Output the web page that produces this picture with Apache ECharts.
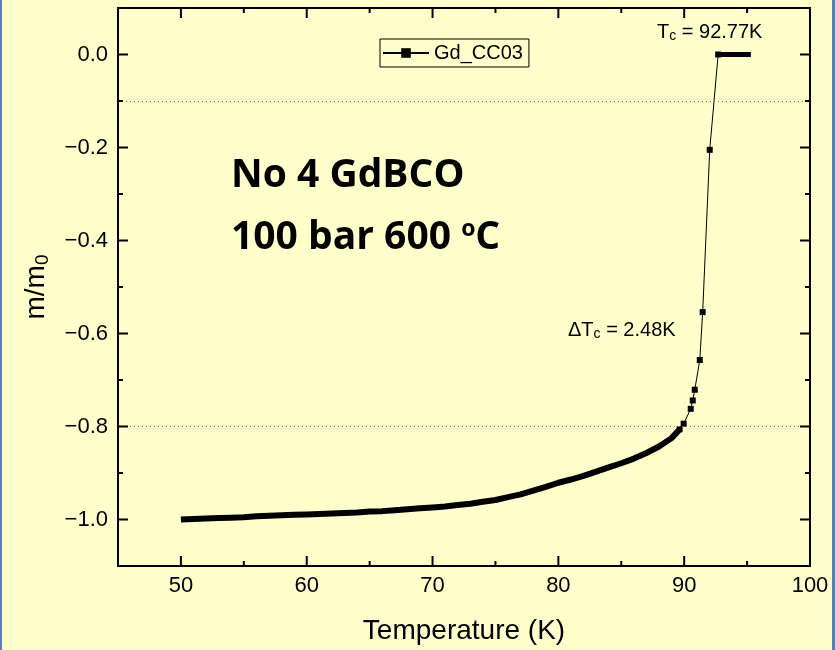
<!DOCTYPE html>
<html>
<head>
<meta charset="utf-8">
<script src="https://cdn.jsdelivr.net/npm/echarts@6/dist/echarts.min.js"></script>
<style>
  html, body { margin: 0; padding: 0; background: #ffffcc; }
  #chart { width: 835px; height: 650px; }
</style>
</head>
<body>
<div id="chart"></div>
<script>
// ------------------------------
// Data
// ------------------------------
var tempDense = [50, 51, 52, 53, 54, 55, 56, 57, 58, 59, 60, 61, 62, 63, 64, 65, 66, 67, 68, 69,
                 70, 71, 72, 73, 74, 75, 76, 77, 78, 79, 80, 81, 82, 83, 84, 85, 86, 87, 88, 89, 89.64];
var momDense = [-1.000, -0.999, -0.998, -0.997, -0.996, -0.995, -0.993, -0.992, -0.991, -0.990,
                -0.989, -0.988, -0.987, -0.986, -0.985, -0.983, -0.982, -0.980, -0.978, -0.976,
                -0.974, -0.972, -0.969, -0.966, -0.962, -0.958, -0.952, -0.946, -0.938, -0.930,
                -0.921, -0.914, -0.906, -0.897, -0.888, -0.879, -0.869, -0.857, -0.843, -0.825, -0.806];

var tempSparse = [89.64, 89.96, 90.52, 90.68, 90.84, 91.24, 91.47, 92.03, 92.70];
var momSparse = [-0.806, -0.794, -0.762, -0.744, -0.721, -0.657, -0.554, -0.205, 0.000];

var tempTop = [92.70, 93.0, 93.5, 94.0, 94.5, 95.0, 95.3];
var momTop = [0, 0, 0, 0, 0, 0, 0];

var xMajor = [50, 60, 70, 80, 90, 100];
var xMinor = [55, 65, 75, 85, 95];
var yMajor = [0, -0.2, -0.4, -0.6, -0.8, -1.0];
var yMinor = [-0.1, -0.3, -0.5, -0.7, -0.9];
var guideLines = [-0.1, -0.8];

function zip(xs, ys) {
    return xs.map(function (x, i) { return [x, ys[i]]; });
}

function yFmt(v) {
    var s = Math.abs(v).toFixed(1);
    return v < -1e-9 ? '\u2212' + s : s;
}

var font = 'Liberation Sans, Arial, sans-serif';

// tick marks on all four sides: [value, length, 0 = x / 1 = y]
var tickData = []
    .concat(xMajor.map(function (v) { return [v, 10, 0]; }))
    .concat(xMinor.map(function (v) { return [v, 5, 0]; }))
    .concat(yMajor.map(function (v) { return [v, 10, 1]; }))
    .concat(yMinor.map(function (v) { return [v, 5, 1]; }));

function renderTick(params, api) {
    var cs = params.coordSys;
    var v = api.value(0), len = api.value(1);
    var st = { stroke: '#000', lineWidth: 2 };
    if (api.value(2) === 0) {
        var px = api.coord([v, -1.1])[0];
        return { type: 'group', children: [
            { type: 'line', shape: { x1: px, y1: cs.y + cs.height, x2: px, y2: cs.y + cs.height - len }, style: st },
            { type: 'line', shape: { x1: px, y1: cs.y, x2: px, y2: cs.y + len }, style: st }
        ] };
    }
    var py = api.coord([45, v])[1];
    return { type: 'group', children: [
        { type: 'line', shape: { x1: cs.x, y1: py, x2: cs.x + len, y2: py }, style: st },
        { type: 'line', shape: { x1: cs.x + cs.width, y1: py, x2: cs.x + cs.width - len, y2: py }, style: st }
    ] };
}

var chart = echarts.init(document.getElementById('chart'));
var option = {
    backgroundColor: '#ffffcc',
    animation: false,
    grid: {
        left: 118, right: 25, top: 8, bottom: 84,
        containLabel: false,
        outerBoundsMode: 'none',
        show: true, borderColor: '#000', borderWidth: 2, backgroundColor: 'transparent'
    },
    legend: {
        data: ['Gd_CC03'],
        left: 380, top: 39,
        padding: [4, 6, 4, 2],
        borderColor: '#000', borderWidth: 1,
        itemWidth: 46, itemHeight: 12, itemGap: 6,
        textStyle: { color: '#000', fontSize: 20, fontFamily: font }
    },
    xAxis: {
        type: 'value', min: 45, max: 100,
        axisLine: { show: false, onZero: false },
        splitLine: { show: false },
        axisTick: { show: false },
        axisLabel: { customValues: xMajor, margin: 9, color: '#000', fontSize: 22, fontFamily: font },
        name: 'Temperature (K)',
        nameLocation: 'middle', nameGap: 51,
        nameTextStyle: { color: '#000', fontSize: 28, fontFamily: font }
    },
    yAxis: {
        type: 'value', min: -1.1, max: 0.1,
        axisLine: { show: false, onZero: false },
        splitLine: { show: false },
        axisTick: { show: false },
        axisLabel: { customValues: yMajor, margin: 10, formatter: yFmt,
                     color: '#000', fontSize: 22, fontFamily: font },
        name: '{a|m/m}{b|0}',
        nameLocation: 'middle', nameGap: 66,
        nameTextStyle: { color: '#000', fontFamily: font,
            rich: { a: { fontSize: 28, fontFamily: font, color: '#000' },
                    b: { fontSize: 19, fontFamily: font, color: '#000', padding: [12, 0, 0, 0] } } }
    },
    graphic: [
        { type: 'rect', left: 0, top: 0, shape: { width: 2, height: 650 }, style: { fill: '#5b7fb3' } },
        { type: 'rect', left: 832, top: 0, shape: { width: 3, height: 650 }, style: { fill: '#5b7fb3' } },
        { type: 'text', left: 231, top: 156,
          style: { text: 'No 4 GdBCO', font: 'bold 39px "Open Sans", sans-serif', fill: '#000' } },
        { type: 'text', left: 231, top: 218,
          style: { text: '{m|100 bar 600 }{s|o}{m|C}', fill: '#000',
                   rich: { m: { font: 'bold 39px "Open Sans", sans-serif', fill: '#000' },
                           s: { font: 'bold 23px "Open Sans", sans-serif', fill: '#000', verticalAlign: 'top' } } } },
        { type: 'text', left: 657, top: 22,
          style: { text: '{a|T}{b|c}{a| = 92.77K}', fill: '#000',
                   rich: { a: { font: '20px ' + font, fill: '#000' },
                           b: { font: '14px ' + font, fill: '#000', padding: [8, 0, 0, 0] } } } },
        { type: 'text', left: 568, top: 320,
          style: { text: '{a|\u0394T}{b|c}{a| = 2.48K}', fill: '#000',
                   rich: { a: { font: '20px ' + font, fill: '#000' },
                           b: { font: '14px ' + font, fill: '#000', padding: [8, 0, 0, 0] } } } }
    ],
    series: [
        {
            name: 'ticks',
            type: 'custom',
            renderItem: renderTick,
            data: tickData,
            clip: false,
            silent: true,
            z: 5
        },
        {
            name: 'dense',
            type: 'line',
            data: zip(tempDense, momDense),
            symbol: 'none',
            lineStyle: { color: '#000', width: 6 },
            markLine: {
                silent: true, symbol: 'none', label: { show: false },
                lineStyle: { color: '#777', width: 1, type: [1, 3] },
                data: guideLines.map(function (v) { return { yAxis: v }; })
            }
        },
        {
            name: 'top',
            type: 'line',
            data: zip(tempTop, momTop),
            symbol: 'none',
            lineStyle: { color: '#000', width: 5 }
        },
        {
            name: 'Gd_CC03',
            type: 'line',
            data: zip(tempSparse, momSparse),
            symbol: 'rect',
            symbolSize: 6,
            itemStyle: { color: '#000' },
            lineStyle: { color: '#000', width: 1 }
        }
    ]
};
chart.setOption(option);
</script>
</body>
</html>
